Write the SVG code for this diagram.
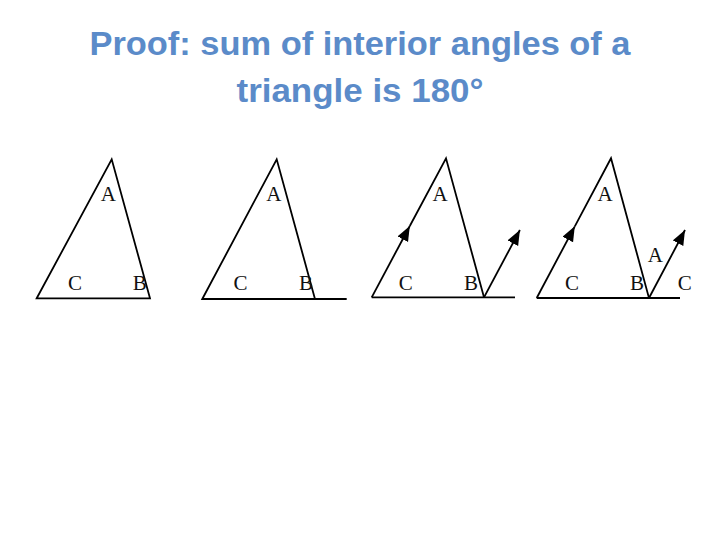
<svg xmlns="http://www.w3.org/2000/svg" width="720" height="540" viewBox="0 0 720 540">
  <style>
    .title { font-family: "Liberation Sans", Arial, sans-serif; font-weight: bold; font-size: 33px; fill: #5B8BC9; text-anchor: middle; }
    .edge { fill: none; stroke: #000; stroke-width: 1.8; stroke-linejoin: miter; }
    .lbl { font-family: "Liberation Serif", "Times New Roman", serif; font-size: 21px; fill: #111; text-anchor: middle; }
  </style>
  <defs>
    <marker id="ah" markerUnits="userSpaceOnUse" markerWidth="18" markerHeight="14" refX="15" refY="6" orient="auto">
      <path d="M0,0 L15,6 L0,12 z" fill="#000"/>
    </marker>
  </defs>
  <rect width="720" height="540" fill="#fff"/>
  <g id="title">
    <text class="title" x="360" y="55" textLength="541" lengthAdjust="spacingAndGlyphs">Proof: sum of interior angles of a</text>
    <text class="title" x="360" y="102" textLength="247" lengthAdjust="spacingAndGlyphs">triangle is 180°</text>
  </g>
  <g id="connectors">
    <path class="edge" d="M36.7,298.3 L111.7,159.3 L150,298.3 Z"/>
    <path class="edge" d="M202.3,299 L276.7,159.3 L315,299 Z M315,299 L346.7,299"/>
    <path class="edge" d="M371.7,297.3 L409.8,226" marker-end="url(#ah)"/>
    <path class="edge" d="M409.8,226 L446,158.3 L484,297.3 L371.7,297.3 M484,297.3 L515,297.3"/>
    <path class="edge" d="M484,297.3 L519.9,230" marker-end="url(#ah)"/>
    <path class="edge" d="M536.7,298 L574.8,226.3" marker-end="url(#ah)"/>
    <path class="edge" d="M574.8,226.3 L611,158.3 L649,298 L536.7,298 M649,298 L680,298"/>
    <path class="edge" d="M649,298 L685,230" marker-end="url(#ah)"/>
  </g>
  <g id="panel1">
    <text class="lbl" x="108.3" y="201">A</text>
    <text class="lbl" x="75" y="290">C</text>
    <text class="lbl" x="139.7" y="290">B</text>
  </g>
  <g id="panel2">
    <text class="lbl" x="273.8" y="201">A</text>
    <text class="lbl" x="240.5" y="290">C</text>
    <text class="lbl" x="306" y="290">B</text>
  </g>
  <g id="panel3">
    <text class="lbl" x="440" y="201">A</text>
    <text class="lbl" x="405.8" y="290">C</text>
    <text class="lbl" x="471" y="290">B</text>
  </g>
  <g id="panel4">
    <text class="lbl" x="605" y="201">A</text>
    <text class="lbl" x="572" y="290">C</text>
    <text class="lbl" x="637" y="290">B</text>
    <text class="lbl" x="655.3" y="262">A</text>
    <text class="lbl" x="684.7" y="290">C</text>
  </g>
</svg>
